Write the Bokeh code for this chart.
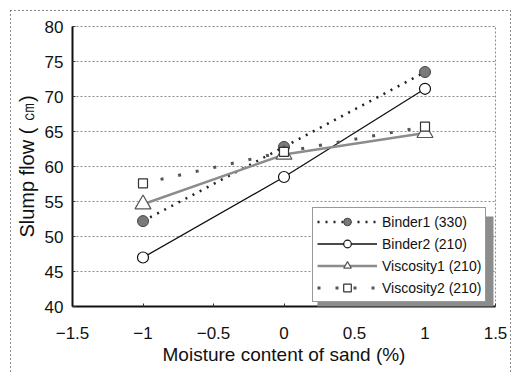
from bokeh.plotting import figure
from bokeh.models import Range1d, BoxAnnotation, FixedTicker
from bokeh.embed import file_html
from bokeh.resources import INLINE

# Moisture content of sand (%) and measured slump flow (cm) per mix
moisture = [-1, 0, 1]
binder1_330 = [52.2, 62.8, 73.5]
binder2_210 = [47.0, 58.5, 71.1]
viscosity1_210 = [54.6, 61.7, 64.8]
viscosity2_210 = [57.6, 62.1, 65.7]

x_ticks = [-1.5, -1, -0.5, 0, 0.5, 1, 1.5]
x_tick_labels = ["\u22121.5", "\u22121", "\u22120.5", "0", "0.5", "1", "1.5"]
y_ticks = [40, 45, 50, 55, 60, 65, 70, 75, 80]

FONT = "Liberation Sans"

# dashed page frame (left, top, right edges) painted behind a transparent border area
dash_v = "repeating-linear-gradient(to bottom, #8a8a8a 0 2px, transparent 2px 4px)"
dash_h = "repeating-linear-gradient(to right, #8a8a8a 0 2px, transparent 2px 4px)"
frame_styles = {
    "background-color": "white",
    "background-image": f"{dash_v}, {dash_v}, {dash_h}",
    "background-size": "1px 370px, 1px 370px, 500px 1px",
    "background-position": "10px 10px, 510px 10px, 10px 10px",
    "background-repeat": "no-repeat",
}

p = figure(width=513, height=374, output_backend="svg", toolbar_location=None,
           x_range=Range1d(-1.5, 1.5), y_range=Range1d(40, 80),
           min_border_left=72, min_border_right=18, min_border_top=26,
           min_border_bottom=68, styles=frame_styles)

p.background_fill_color = "white"
p.border_fill_alpha = 0
p.outline_line_color = "#8a8a8a"
p.outline_line_dash = "2 2"
p.outline_line_width = 1

# grid: dashed horizontal lines only
p.xgrid.grid_line_color = None
p.ygrid.grid_line_color = "#8a8a8a"
p.ygrid.grid_line_dash = "2 2"
p.ygrid.grid_line_width = 1

p.xaxis.ticker = FixedTicker(ticks=x_ticks)
p.xaxis.major_label_overrides = {t: s for t, s in zip(x_ticks, x_tick_labels)}
p.yaxis.ticker = FixedTicker(ticks=y_ticks)

for ax in (p.xaxis[0], p.yaxis[0]):
    ax.axis_line_color = "#111111"
    ax.axis_line_width = 2
    ax.major_tick_in = 3
    ax.major_tick_out = 0
    ax.major_tick_line_color = "#333333"
    ax.minor_tick_line_color = None
    ax.major_label_text_font = FONT
    ax.major_label_text_font_size = "17px"
    ax.major_label_text_color = "#111111"
    ax.axis_label_text_font = FONT
    ax.axis_label_text_font_style = "normal"
    ax.axis_label_text_color = "#111111"

p.xaxis.axis_label = "Moisture content of sand (%)"
p.xaxis.axis_label_text_font_size = "19px"
p.xaxis.major_label_standoff = 20
p.xaxis.axis_label_standoff = 2

p.yaxis.axis_label = "Slump flow ( \u339d)"
p.yaxis.axis_label_text_font_size = "20px"
p.yaxis.major_label_standoff = 9
p.yaxis.axis_label_standoff = 4

# series
p.line(moisture, binder1_330, line_color="#222222", line_width=2.5,
       line_dash="2 6", legend_label="Binder1 (330)")
p.scatter(moisture, binder1_330, marker="circle", size=11, fill_color="#7a7a7a",
          line_color="#444444", line_width=1, legend_label="Binder1 (330)")

p.line(moisture, binder2_210, line_color="#111111", line_width=1.3,
       legend_label="Binder2 (210)")
p.scatter(moisture, binder2_210, marker="circle", size=11, fill_color="white",
          line_color="#111111", line_width=1.2, legend_label="Binder2 (210)")

p.line(moisture, viscosity1_210, line_color="#8c8c8c", line_width=2.5,
       legend_label="Viscosity1 (210)")
p.scatter(moisture, viscosity1_210, marker="triangle", size=16, fill_color="white",
          line_color="#555555", line_width=1.2, legend_label="Viscosity1 (210)")

p.line(moisture, viscosity2_210, line_color="#555555", line_width=3,
       line_dash="3 15", legend_label="Viscosity2 (210)")
p.scatter(moisture, viscosity2_210, marker="square", size=9, fill_color="white",
          line_color="#333333", line_width=1.2, legend_label="Viscosity2 (210)")

# shadow under the legend box
p.add_layout(BoxAnnotation(left=317, right=493, top=216, bottom=307,
                           left_units="canvas", right_units="canvas",
                           top_units="canvas", bottom_units="canvas",
                           fill_color="#8c8c8c", fill_alpha=1, line_color=None,
                           level="annotation"))

lg = p.legend[0]
lg.location = (240, 4)
lg.label_text_font = FONT
lg.label_text_font_size = "14px"
lg.label_text_color = "#111111"
lg.glyph_width = 60
lg.glyph_height = 19
lg.label_height = 19
lg.label_standoff = 5
lg.spacing = 3
lg.padding = 4
lg.margin = 0
lg.border_line_color = "#333333"
lg.border_line_width = 1
lg.background_fill_color = "white"
lg.background_fill_alpha = 1

open("out.html", "w").write(file_html(p, INLINE))
